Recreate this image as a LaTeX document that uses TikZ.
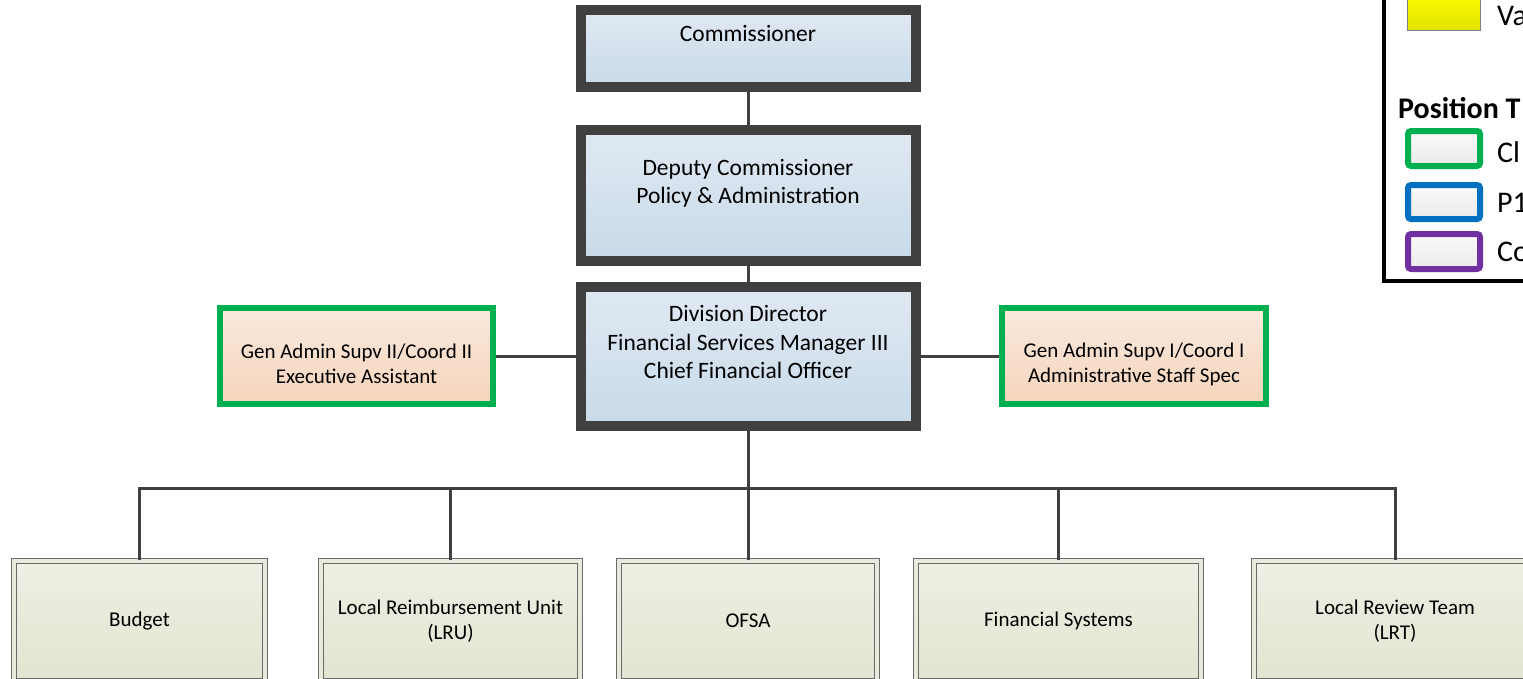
\documentclass[tikz,border=0pt]{standalone}
\usepackage{fontspec}
\setmainfont{Carlito}
\definecolor{edge}{HTML}{404040}
\definecolor{bluetop}{HTML}{E0E9F2}
\definecolor{bluebot}{HTML}{C8DAE9}
\definecolor{peachtop}{HTML}{FAEADE}
\definecolor{peachbot}{HTML}{F5D4BB}
\definecolor{clgreen}{HTML}{00B050}
\definecolor{pblue}{HTML}{0070C0}
\definecolor{copurple}{HTML}{7030A0}
\definecolor{unitline}{HTML}{6A6A6A}
\definecolor{unittop}{HTML}{EEF0E4}
\definecolor{unitbot}{HTML}{E0E5D0}
\definecolor{unitmid}{HTML}{E8EBDC}
\definecolor{swtop}{HTML}{FAFAFA}
\definecolor{swbot}{HTML}{EAEAEA}
\definecolor{yeltop}{HTML}{FFFF00}
\definecolor{yelbot}{HTML}{E2E200}

\begin{document}
\begin{tikzpicture}[x=1pt,y=-1pt,
    boss/.style={draw=edge, line width=10pt, top color=bluetop, bottom color=bluebot,
      font=\fontsize{23.5}{28.5}\selectfont, align=center, inner sep=0pt,
      minimum width=335pt, text depth=29pt},
    aide/.style={draw=clgreen, line width=6pt, top color=peachtop, bottom color=peachbot,
      font=\fontsize{21}{25}\selectfont, align=center, inner sep=0pt,
      minimum height=96pt, text height=55.5pt},
    unit/.style={draw=unitline, double=unitmid, double distance=3.5pt, line width=1.2pt,
      top color=unittop, bottom color=unitbot, font=\fontsize{21}{24.5}\selectfont,
      align=center, inner sep=0pt, minimum height=120pt},
    link/.style={draw=edge, line width=3pt},
    swatch/.style={line width=6pt, rounded corners=3pt, top color=swtop, bottom color=swbot},
    legtext/.style={anchor=base west, inner sep=0pt, font=\fontsize{30}{34}\selectfont}]
  \useasboundingbox (0,0) rectangle (1523,678);
  \clip (0,0) rectangle (1523,678);

  % chain of command
  \node[boss, minimum height=77pt, text depth=30pt] (comm) at (748,48.5) {Commissioner};
  \node[boss, minimum height=131pt, text depth=28pt] (dep) at (748,195.5)
    {Deputy Commissioner\\Policy \& Administration};
  \node[boss, minimum height=139pt] (dd) at (748,356.5)
    {Division Director\\Financial Services Manager III\\Chief Financial Officer};

  \node[aide, minimum width=273pt] (exa) at (356.5,356)
    {Gen Admin Supv II/Coord II\\Executive Assistant};
  \node[aide, minimum width=264pt] (ass) at (1134,356)
    {Gen Admin Supv I/Coord I\\Administrative Staff Spec};

  % units
  \coordinate (bus) at (748,488);
  \node[unit, minimum width=251pt] (budget) at (139.5,621) {Budget};
  \node[unit, minimum width=259pt] (lru) at (450.5,621) {Local Reimbursement Unit\\(LRU)};
  \node[unit, minimum width=258pt] (ofsa) at (748,621) {OFSA};
  \node[unit, minimum width=285pt] (fsys) at (1058.5,621) {Financial Systems};
  \node[unit, minimum width=282pt] (lrt) at (1395,621) {Local Review Team\\(LRT)};

  \draw[link] (comm) -- (dep);
  \draw[link] (dep) -- (dd);
  \draw[link] (exa.east) -- (exa.east -| dd.west);
  \draw[link] (ass.west) -- (ass.west -| dd.east);
  \draw[link] (dd) -- (bus);
  \foreach \u in {budget,lru,ofsa,fsys,lrt}
    \draw[link] (\u.north) |- (bus);

  % legend
  \draw[line width=4pt] (1384,-30) rectangle (1620,281);
  \draw[draw=gray, line width=1pt, top color=yeltop, bottom color=yelbot]
    (1407.5,-10) rectangle (1480,30);
  \draw[swatch, draw=clgreen] (1408,131) rectangle (1480,166);
  \draw[swatch, draw=pblue] (1408,185) rectangle (1480,219);
  \draw[swatch, draw=copurple] (1408,234) rectangle (1480,269);
  \node[legtext] (vac) at (1497,25) {Va};
  \node[legtext, font=\fontsize{30}{34}\selectfont\bfseries] (ptype) at (1398,118) {Position T};
  \node[legtext] (cl) at (1497,162) {Cl};
  \node[legtext] (pone) at (1497,212) {P1};
  \node[legtext] (co) at (1497,261) {Co};
\end{tikzpicture}
\end{document}
